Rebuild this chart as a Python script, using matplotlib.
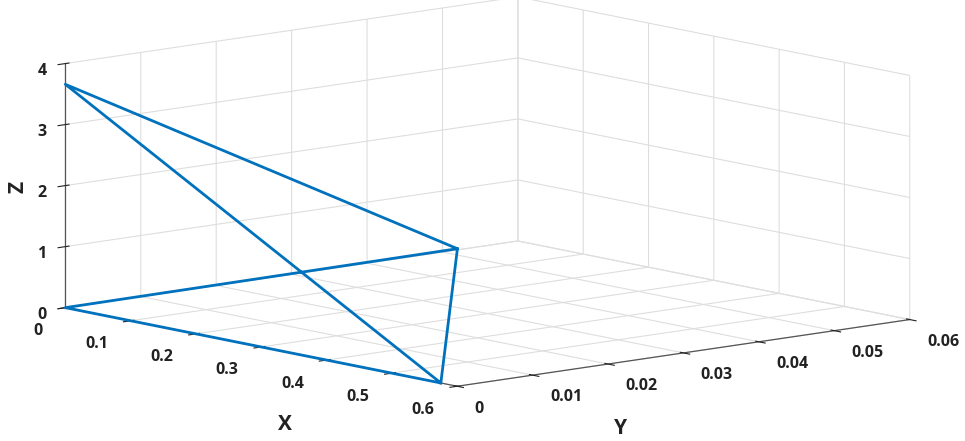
import matplotlib
matplotlib.use("Agg")
import matplotlib.pyplot as plt
from mpl_toolkits.mplot3d import Axes3D  # noqa

# ---- data (path through the four vertices) ----
x_path = [0.575, 0.0, 0.575, 0.0, 0.575, 0.575]
y_path = [0.0022, 0.0, 0.0, 0.0, 0.0022, 0.0]
z_path = [2.16, 0.0, 0.0, 3.66, 2.16, 0.0]

x_ticks = [0, 0.1, 0.2, 0.3, 0.4, 0.5, 0.6]
y_ticks = [0, 0.01, 0.02, 0.03, 0.04, 0.05, 0.06]
z_ticks = [0, 1, 2, 3, 4]

plt.rcParams["font.family"] = ["Open Sans", "DejaVu Sans"]
plt.rcParams["grid.color"] = "#dedede"
plt.rcParams["grid.linewidth"] = 0.8

W, H = 965, 441
fig = plt.figure(figsize=(W / 100, H / 100), dpi=100)
S = 965.0
cx, cy = 474.5, 441 - 204.6
ax = fig.add_axes([(cx - S / 2) / W, (cy - S / 2) / H, S / W, S / H], projection="3d")
ax.set_proj_type("ortho")
ax.view_init(elev=9.9, azim=-40.6)
ax.set_box_aspect((605, 599, 249), zoom=0.888)

ax.plot(x_path, y_path, z_path, color="#0072BD", linewidth=2.0)

ax.set_xlim(0, 0.6)
ax.set_ylim(0, 0.06)
ax.set_zlim(0, 4)
ax.set_xticks(x_ticks)
ax.set_yticks(y_ticks)
ax.set_zticks(z_ticks)
ax.set_xticklabels([f"{v:g}" for v in x_ticks])
ax.set_yticklabels([f"{v:g}" for v in y_ticks])
ax.set_zticklabels([f"{v:g}" for v in z_ticks])

for axis in (ax.xaxis, ax.yaxis, ax.zaxis):
    axis.set_pane_color((1, 1, 1, 0))
    axis.pane.set_edgecolor("#dedede")
    axis.line.set_color("#555555")
    axis.line.set_linewidth(0.9)

ax.zaxis.set_ticks_position("lower")

ax.tick_params(labelsize=11.5, colors="#222222")
ax.xaxis.set_tick_params(pad=10)
ax.yaxis.set_tick_params(pad=8)
ax.zaxis.set_tick_params(pad=2)
for lab in ax.get_xticklabels() + ax.get_yticklabels() + ax.get_zticklabels():
    lab.set_fontweight("bold")
for lab in ax.get_xticklabels():
    lab.set_ha("right")
for lab in ax.get_yticklabels():
    lab.set_ha("left")

# axis titles
lab_kw = dict(fontsize=15, fontweight="bold", color="#222222", ha="center", va="center")
fig.text(285 / W, 1 - 425 / H, "X", **lab_kw)
fig.text(620 / W, 1 - 428 / H, "Y", **lab_kw)
fig.text(18 / W, 1 - 187 / H, "Z", rotation=90, **lab_kw)

fig.savefig("out.png", dpi=100)
